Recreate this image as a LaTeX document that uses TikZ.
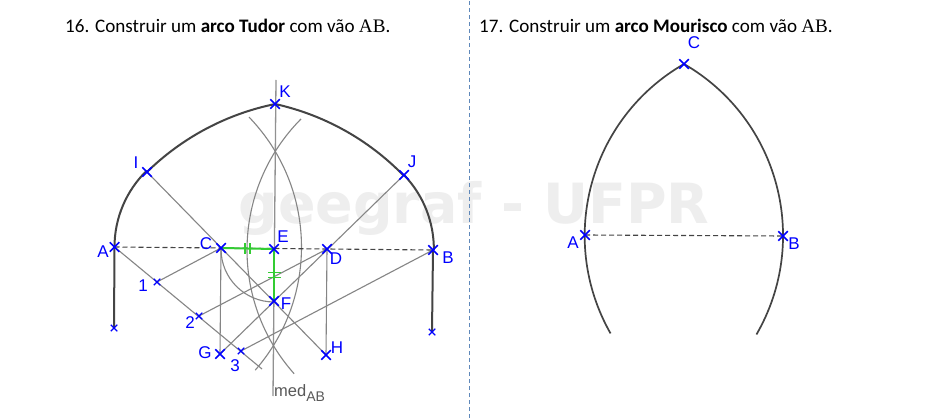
\documentclass[tikz,border=0pt]{standalone}
\usepackage{fontspec}
\setmainfont{Carlito}
\newfontfamily\geo{Liberation Sans}
\newfontfamily\cam{Liberation Serif}
\newfontfamily\wm{DejaVu Sans}
\usetikzlibrary{shapes.misc,backgrounds}
\definecolor{arcdark}{HTML}{444444}
\definecolor{constr}{HTML}{858585}
\definecolor{markgreen}{HTML}{33CC33}
\definecolor{wmgray}{HTML}{EEEEEE}
\definecolor{divider}{HTML}{5F88BA}
\tikzset{
  bigx/.style={cross out,draw=blue,line width=1.6pt,minimum size=9.5pt,inner sep=0pt,outer sep=0pt},
  smallx/.style={cross out,draw=blue,line width=1.2pt,minimum size=6.5pt,inner sep=0pt,outer sep=0pt},
  ptlabel/.style={text=blue,font=\geo\fontsize{17}{19}\selectfont,inner sep=0pt},
  title/.style={anchor=west,inner sep=0pt,text=black,font=\fontsize{19.1}{22}\selectfont},
  mainarc/.style={draw=arcdark,line width=2pt},
  thinarc/.style={draw=arcdark,line width=1.7pt},
  construct/.style={draw=constr,line width=1.1pt},
  chord/.style={draw=arcdark,line width=1.1pt,dash pattern=on 5pt off 3pt},
  greenseg/.style={draw=markgreen,line width=2pt}
}
\begin{document}
\begin{tikzpicture}[x=1pt,y=1pt]
\path[use as bounding box] (0,0) rectangle (950,418);
% points, left figure
\node[bigx] (A) at (114.5,171) {};
\node[bigx] (B) at (433,168) {};
\node[bigx] (C) at (221,170) {};
\node[bigx] (D) at (327,169) {};
\node[bigx] (E) at (274,169) {};
\node[bigx] (F) at (274,117) {};
\node[bigx] (G) at (220,64) {};
\node[bigx] (H) at (326,63) {};
\node[bigx] (I) at (147,246) {};
\node[bigx] (J) at (404,243) {};
\node[bigx] (K) at (275,314) {};
\node[smallx] (P1) at (157,136) {};
\node[smallx] (P2) at (199,102) {};
\node[smallx] (P3) at (241,67) {};
\node[smallx] (Ab) at (114,90) {};
\node[smallx] (Bb) at (432,86) {};
\coordinate (Aend) at (262,49);
\coordinate (MedT) at (276,338);
\coordinate (MedB) at (273,22);
% labels
\node[ptlabel] (lK) at (285,326) {K};
\node[ptlabel] (lI) at (136,255) {I};
\node[ptlabel] (lJ) at (412,256) {J};
\node[ptlabel] (lA) at (103,166) {A};
\node[ptlabel] (lC) at (206,174) {C};
\node[ptlabel] (lE) at (283,181) {E};
\node[ptlabel] (lD) at (336,159) {D};
\node[ptlabel] (lB) at (448,160) {B};
\node[ptlabel] (lF) at (286,114) {F};
\node[ptlabel] (lG) at (205,65) {G};
\node[ptlabel] (lH) at (337,70) {H};
\node[ptlabel] (l1) at (143,132) {1};
\node[ptlabel] (l2) at (190,95) {2};
\node[ptlabel] (l3) at (235,52) {3};
\node[anchor=west,inner sep=0pt,text=black!65,font=\geo\fontsize{16.5}{18}\selectfont] (med) at (274,25)
  {med\raisebox{-5pt}{\fontsize{14}{16}\selectfont AB}};
% points, right figure
\node[bigx] (RA) at (585,183) {};
\node[bigx] (RB) at (783,182) {};
\node[bigx] (RC) at (684,354) {};
\node[ptlabel] (lRA) at (573,175) {A};
\node[ptlabel] (lRB) at (794,174) {B};
\node[ptlabel] (lRC) at (694,375) {C};
% titles
\node[title] (t16) at (65,392) {16. Construir um \textbf{arco Tudor} com vão {\cam AB}.};
\node[title] (t17) at (479,392) {17. Construir um \textbf{arco Mourisco} com vão {\cam AB}.};
\begin{scope}[on background layer]
  \fill[white] (0,0) rectangle (950,418);
  \node[anchor=center,inner sep=0pt,text=wmgray,font=\wm\bfseries\fontsize{55.4}{60}\selectfont] (wm) at (474,210) {geegraf - UFPR};
  \draw[draw=divider,line width=0.9pt,dash pattern=on 4pt off 3pt] (469,0) -- (469,418);
  % construction lines
  \draw[construct,line width=1.3pt,draw=constr!90] (MedT) -- (MedB);
  \draw[construct] (A.center) -- (Aend);
  \draw[construct] (C.center) -- (P1.center);
  \draw[construct] (D.center) -- (P2.center);
  \draw[construct] (B.center) -- (P3.center);
  \draw[construct] (C.center) -- (G.center);
  \draw[construct] (D.center) -- (H.center);
  \draw[construct] (I.center) -- (H.center);
  \draw[construct] (G.center) -- (J.center);
  % construction arcs
  \draw[construct] (E.center) ++(180:53) arc[start angle=180,end angle=270,radius=53];
  \draw[construct] (B.center) ++(135.2:186) arc[start angle=135.2,end angle=221.7,radius=186];
  \draw[construct] (A.center) ++(44:187) arc[start angle=44,end angle=-41.2,radius=187];
  % chord and green
  \draw[chord] (A.center) -- (B.center);
  \draw[greenseg] (C.center) -- (E.center);
  \draw[greenseg] (E.center) -- (F.center);
  \draw[markgreen,line width=1.4pt] (245,164) -- (245,175) (250,164) -- (250,175);
  \draw[markgreen,line width=1.4pt] (268,140.5) -- (281,140.5) (268,145.5) -- (281,145.5);
  % main arcs
  \draw[mainarc] (A.center) arc[start angle=180,end angle=134.2,radius=106.5];
  \draw[mainarc] (I.center) arc[start angle=134.4,end angle=101.5,radius=256];
  \draw[mainarc] (K.center) arc[start angle=77.6,end angle=44.2,radius=256];
  \draw[mainarc] (J.center) arc[start angle=43.9,end angle=-0.5,radius=106.8];
  \draw[mainarc] (A.center) -- (Ab.center);
  \draw[mainarc] (B.center) -- (Bb.center);
  % right figure
  \draw[chord] (RA.center) -- (RB.center);
  \draw[thinarc] (RC.center) arc[start angle=119.9,end angle=209.6,radius=198];
  \draw[thinarc] (RC.center) arc[start angle=60,end angle=-30,radius=198];
\end{scope}
\end{tikzpicture}
\end{document}
